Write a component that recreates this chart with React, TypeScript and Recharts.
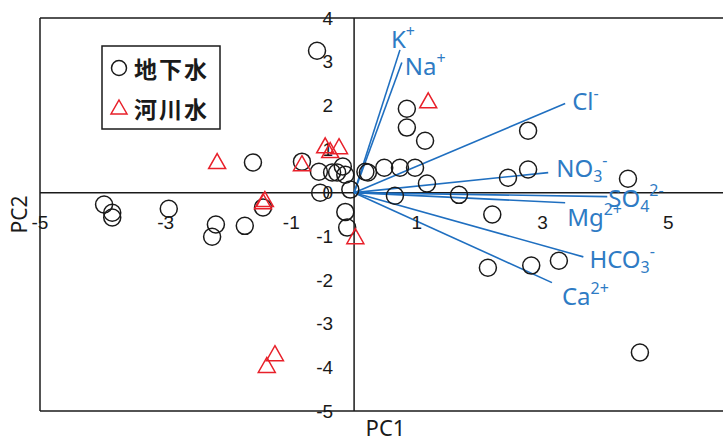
import React from 'react';
import { ScatterChart, Scatter, XAxis, YAxis, ReferenceLine, Legend } from 'recharts';

// PCA scores: groundwater samples (PC1, PC2)
const groundwater = [
  { x: -0.59, y: 3.25 }, { x: 0.84, y: 1.92 }, { x: 0.84, y: 1.49 }, { x: 1.13, y: 1.19 },
  { x: 2.77, y: 1.42 }, { x: 2.77, y: 0.53 }, { x: 2.45, y: 0.34 }, { x: 4.36, y: 0.32 },
  { x: 1.67, y: -0.05 }, { x: 0.65, y: -0.07 }, { x: 1.16, y: 0.21 }, { x: 0.18, y: 0.48 },
  { x: 0.22, y: 0.46 }, { x: 0.48, y: 0.57 }, { x: 0.73, y: 0.57 }, { x: 0.97, y: 0.57 },
  { x: -0.83, y: 0.71 }, { x: -0.56, y: 0.48 }, { x: -0.35, y: 0.46 }, { x: -0.27, y: 0.46 },
  { x: -0.18, y: 0.6 }, { x: -0.14, y: 0.41 }, { x: -0.54, y: 0.0 }, { x: -0.06, y: 0.07 },
  { x: -0.14, y: -0.44 }, { x: -0.11, y: -0.8 }, { x: -1.61, y: 0.69 }, { x: -3.98, y: -0.27 },
  { x: -3.85, y: -0.46 }, { x: -3.85, y: -0.57 }, { x: -2.95, y: -0.37 }, { x: -2.2, y: -0.73 },
  { x: -2.26, y: -1.01 }, { x: -1.74, y: -0.76 }, { x: -1.45, y: -0.34 }, { x: 2.2, y: -0.5 },
  { x: 2.13, y: -1.72 }, { x: 2.82, y: -1.67 }, { x: 3.26, y: -1.56 }, { x: 4.55, y: -3.66 },
];

// PCA scores: river water samples (PC1, PC2)
const riverwater = [
  { x: -2.18, y: 0.69 }, { x: -1.45, y: -0.23 }, { x: -1.42, y: -0.18 }, { x: -0.83, y: 0.64 },
  { x: -0.46, y: 1.05 }, { x: -0.38, y: 0.94 }, { x: -0.24, y: 1.03 }, { x: 1.18, y: 2.08 },
  { x: 0.02, y: -1.03 }, { x: -1.26, y: -3.71 }, { x: -1.39, y: -3.98 },
];

// Ion loadings (biplot vectors)
const ionBase = ['K', 'Na', 'Cl', 'NO', 'SO', 'Mg', 'HCO', 'Ca'];
const ionSub = ['', '', '', '3', '4', '', '3', ''];
const ionSup = ['+', '+', '-', '-', '2-', '2+', '-', '2+'];
const loadingPC1 = [0.73, 0.76, 3.36, 3.09, 4.03, 3.36, 3.65, 3.15];
const loadingPC2 = [3.27, 2.98, 2.04, 0.46, -0.09, -0.23, -1.47, -2.06];

// Tick labels drawn at the origin axes
const xTicks = [-5, -3, -1, 1, 3, 5];
const yTicks = [4, 3, 2, 1, 0, -1, -2, -3, -4, -5];

const seriesNames = ['地下水', '河川水'];

// label placement (pixels from the vector tip)
const ionLabelOffset: Record<string, [number, number]> = {
  K: [-9, -2], Na: [3, 12], Cl: [7, 6], NO: [8, 4], SO: [1, 10], Mg: [2, 23], HCO: [6, 11], Ca: [10, 22],
};

const INK = '#1a1a1a';
const RED = '#e8202a';
const BLUE_LINE = '#1f6fc0';
const BLUE_TEXT = '#2e7bc4';
const TICK_FONT = '"Liberation Sans", Arial, sans-serif';
const LABEL_FONT = '"Noto Sans", "Noto Sans CJK JP", sans-serif';

const ions = ionBase.map((b, i) => ({
  x: loadingPC1[i], y: loadingPC2[i], base: b, sub: ionSub[i], sup: ionSup[i],
}));
const xTickData = xTicks.map((v) => ({ x: v, y: 0, label: String(v) }));
const yTickData = yTicks.map((v) => ({ x: 0, y: v, label: String(v) }));

const Ring = (p: any) => (
  <circle cx={p.cx} cy={p.cy} r={8.5} fill="none" stroke={INK} strokeWidth={1.5} />
);

const Tri = (p: any) => (
  <path
    d={`M${p.cx},${p.cy - 9} L${p.cx + 8.5},${p.cy + 6} L${p.cx - 8.5},${p.cy + 6} Z`}
    fill="none"
    stroke={RED}
    strokeWidth={1.5}
  />
);

const XTickLabel = (p: any) => (
  <text x={p.cx} y={p.cy + 30} textAnchor="middle" dominantBaseline="central"
    fontFamily={TICK_FONT} fontSize={19} fill={INK}>{p.payload.label}</text>
);

const YTickLabel = (p: any) => (
  <text x={p.cx - 21} y={p.cy} textAnchor="end" dominantBaseline="central"
    fontFamily={TICK_FONT} fontSize={19} fill={INK}>{p.payload.label}</text>
);

const IonLabel = (p: any) => {
  const d = p.payload;
  const [dx, dy] = ionLabelOffset[d.base];
  return (
    <text x={p.cx + dx} y={p.cy + dy} fontFamily={LABEL_FONT} fontSize={24} fill={BLUE_TEXT}>
      {d.base}
      {d.sub ? <tspan fontSize={16} dy={5}>{d.sub}</tspan> : null}
      <tspan fontSize={16} dy={d.sub ? -16 : -11}>{d.sup}</tspan>
    </text>
  );
};

const LegendBox = () => (
  <svg width={121} height={86} style={{ display: 'block' }}>
    <rect x={1} y={1} width={118} height={83} fill="#fff" stroke={INK} strokeWidth={1.5} />
    <circle cx={18} cy={23} r={7.5} fill="none" stroke={INK} strokeWidth={1.5} />
    <path d="M18,55 L26,69 L10,69 Z" fill="none" stroke={RED} strokeWidth={1.5} />
    <text x={33} y={23} dominantBaseline="central" fontFamily='"Noto Sans CJK JP", sans-serif'
      fontWeight={700} fontSize={23} letterSpacing={2} fill={INK}>{seriesNames[0]}</text>
    <text x={33} y={63} dominantBaseline="central" fontFamily='"Noto Sans CJK JP", sans-serif'
      fontWeight={700} fontSize={23} letterSpacing={2} fill={INK}>{seriesNames[1]}</text>
  </svg>
);

export default function App() {
  return (
    <div style={{ position: 'absolute', left: 0, top: 0, width: 723, height: 441, overflow: 'hidden', background: '#fff' }}>
      <ScatterChart width={760} height={441} margin={{ top: 18, right: 29, bottom: 0, left: 0 }}>
        <XAxis type="number" dataKey="x" domain={[-5, 6]} height={30}
          tick={false} tickLine={false} axisLine={false}
          label={{ value: 'PC1', position: 'insideBottom', offset: 5, fontSize: 22, fill: INK, fontFamily: LABEL_FONT }} />
        <YAxis type="number" dataKey="y" domain={[-5, 4]} width={40}
          tick={false} tickLine={false} axisLine={false}
          label={{ value: 'PC2', angle: -90, position: 'insideLeft', offset: 20, fontSize: 21, fill: INK, fontFamily: LABEL_FONT, style: { textAnchor: 'middle' } }} />

        {/* plot frame */}
        <ReferenceLine y={4} stroke={INK} strokeWidth={1.5} ifOverflow="visible" />
        <ReferenceLine y={-5} stroke={INK} strokeWidth={1.5} ifOverflow="visible" />
        <ReferenceLine x={-5} stroke={INK} strokeWidth={1.5} ifOverflow="visible" />
        {/* origin axes */}
        <ReferenceLine y={0} stroke={INK} strokeWidth={1.5} />
        <ReferenceLine x={0} stroke={INK} strokeWidth={1.5} />

        <Scatter name="xticks" data={xTickData} shape={XTickLabel} isAnimationActive={false} legendType="none" />
        <Scatter name="yticks" data={yTickData} shape={YTickLabel} isAnimationActive={false} legendType="none" />

        <Scatter name={seriesNames[0]} data={groundwater} shape={Ring} isAnimationActive={false} />
        <Scatter name={seriesNames[1]} data={riverwater} shape={Tri} isAnimationActive={false} />

        {ions.map((d) => (
          <ReferenceLine key={d.base} segment={[{ x: 0, y: 0 }, { x: d.x, y: d.y }]}
            stroke={BLUE_LINE} strokeWidth={1.6} ifOverflow="visible" />
        ))}
        <Scatter name="ions" data={ions} shape={IonLabel} isAnimationActive={false} legendType="none" />

        <Legend layout="vertical" align="center" verticalAlign="middle" content={LegendBox}
          wrapperStyle={{ left: 101, top: 45, width: 121, height: 86 }} />
      </ScatterChart>
    </div>
  );
}
